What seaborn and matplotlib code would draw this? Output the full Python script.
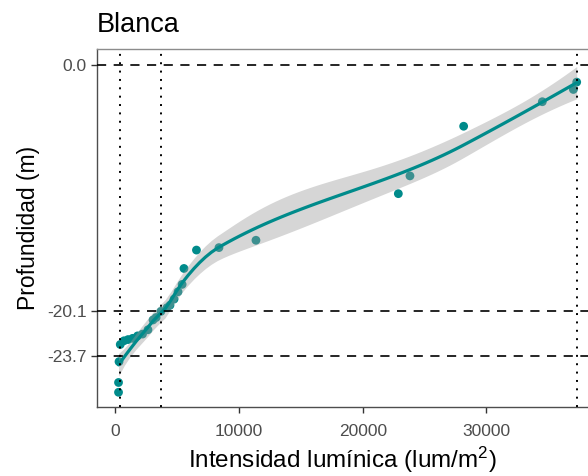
import numpy as np
import pandas as pd
import matplotlib
matplotlib.use("Agg")
import matplotlib.pyplot as plt
import seaborn as sns

# Light intensity (lum/m^2) and depth (m) measurements
intensidad = [260, 260, 300, 400, 700, 1030, 1400, 1800, 2200, 2640, 3050,
              3300, 3690, 4180, 4420, 4750, 5070, 5400, 5550, 6560, 8380, 11370,
              22880, 23820, 28160, 34520, 37030, 37300]
profundidad = [-26.7, -25.9, -24.2, -22.8, -22.5, -22.4, -22.3, -22.1, -21.95, -21.6, -20.8,
               -20.6, -20.1, -19.8, -19.6, -19.1, -18.5, -17.9, -16.6, -15.1, -14.9, -14.3,
               -10.5, -9.05, -5.0, -3.0, -2.0, -1.4]

# Reference depths and light levels (1 %, 10 % and 100 % of surface light)
prof_ref = [0.0, -20.1, -23.7]
luz_ref = [373, 3730, 37300]

x_ticks = [0, 10000, 20000, 30000]
titulo = "Blanca"

df = pd.DataFrame({"intensidad": intensidad, "profundidad": profundidad})


def _local_operator(x, v, q):
    """Rows of the local quadratic fit at v giving value and slope."""
    d = np.abs(x - v)
    rho = np.sort(d)[q - 1]
    w = np.where(d < rho, (1 - (d / rho) ** 3) ** 3, 0.0)
    u = (x - v) / rho
    X = np.column_stack([np.ones_like(u), u, u ** 2])
    XtW = X.T * w
    op = np.linalg.solve(XtW @ X, XtW)
    return op[0], op[1] / rho


def _vertices(x, fc):
    """Cut points of a 1-d k-d tree used for the loess interpolation surface."""
    xs = np.sort(x)
    n = len(xs)
    lo, hi = xs[0], xs[-1]
    mu = 0.005 * max(hi - lo, 1e-10 * max(abs(lo), abs(hi)) + 1e-30)
    verts = [lo - mu, hi + mu]
    stack = [(0, n - 1, lo - mu, hi + mu)]
    while stack:
        l, u, a, b = stack.pop()
        if u - l + 1 <= fc:
            continue
        m = (l + u) // 2
        off = 0
        while l <= m + off < u:
            if xs[m + off] == xs[m + off + 1]:
                off = -off
                if off >= 0:
                    off += 1
            else:
                m = m + off
                break
        cut = xs[m]
        if cut == a or cut == b:
            continue
        verts.append(cut)
        stack.append((l, m, a, cut))
        stack.append((m + 1, u, cut, b))
    return np.unique(verts)


def loess_smooth(x, y, grid, span=0.75, cell=0.2):
    """Loess (degree 2) with interpolated surface and a 95 % confidence band."""
    x = np.asarray(x, float)
    y = np.asarray(y, float)
    n = len(x)
    q = int(np.floor(n * span))
    fc = int(np.floor(n * span * cell))
    verts = _vertices(x, fc)
    ops = [_local_operator(x, v, q) for v in verts]

    def operator_at(pts):
        rows = []
        for p in pts:
            k = int(np.clip(np.searchsorted(verts, p) - 1, 0, len(verts) - 2))
            v0, v1 = verts[k], verts[k + 1]
            h = v1 - v0
            t = (p - v0) / h
            phi0 = (1 - t) ** 2 * (1 + 2 * t)
            phi1 = t ** 2 * (3 - 2 * t)
            psi0 = t * (1 - t) ** 2
            psi1 = -t ** 2 * (1 - t)
            rows.append(phi0 * ops[k][0] + phi1 * ops[k + 1][0]
                        + (psi0 * ops[k][1] + psi1 * ops[k + 1][1]) * h)
        return np.array(rows)

    Lhat = operator_at(x)
    M = np.eye(n) - Lhat
    R = M.T @ M
    d1 = np.trace(R)
    d2 = np.trace(R @ R)
    sigma = np.sqrt(np.sum((M @ y) ** 2) / d1)
    dof = d1 ** 2 / d2
    z = 1.959964
    tq = z + (z ** 3 + z) / (4 * dof) + (5 * z ** 5 + 16 * z ** 3 + 3 * z) / (96 * dof ** 2)
    Lg = operator_at(grid)
    fit = Lg @ y
    se = sigma * np.sqrt(np.sum(Lg ** 2, axis=1))
    return fit, fit - tq * se, fit + tq * se


grid = np.linspace(min(intensidad), max(intensidad), 80)
fit, lo, hi = loess_smooth(intensidad, profundidad, grid)
smooth = pd.DataFrame({"intensidad": grid, "profundidad": fit})

sns.set_theme(style="white")
plt.rcParams["font.family"] = ["Liberation Sans", "DejaVu Sans"]
plt.rcParams["mathtext.fontset"] = "custom"
plt.rcParams["mathtext.rm"] = "Liberation Sans"
plt.rcParams["mathtext.it"] = "Liberation Sans:italic"

teal = "#008B8B"
fig = plt.figure(figsize=(5.88, 4.76), dpi=100)
ax = fig.add_axes([97 / 588, 1 - 407 / 476, 1 - 97 / 588, (407 - 49) / 476])

sns.scatterplot(data=df, x="intensidad", y="profundidad", ax=ax, color=teal,
                s=40, edgecolor="none", linewidth=0, zorder=2)
ax.fill_between(grid, lo, hi, color="#999999", alpha=0.4, linewidth=0, zorder=3)
sns.lineplot(data=smooth, x="intensidad", y="profundidad", ax=ax, color=teal,
             linewidth=2.3, zorder=4, estimator=None, sort=False)

for p in prof_ref:
    ax.axhline(p, color="black", linewidth=1.2, linestyle=(0, (5.5, 4.5)), zorder=5)
for l in luz_ref:
    ax.axvline(l, color="black", linewidth=1.4, linestyle=(0, (1, 3.3)), zorder=5)

ax.set_xlim(-1480, 38213)
ax.set_ylim(-27.9, 1.3)
ax.set_xticks(x_ticks)
ax.set_xticklabels([str(v) for v in x_ticks])
ax.set_yticks(prof_ref)
ax.set_yticklabels([f"{v:.1f}" for v in prof_ref])
ax.tick_params(axis="both", which="major", length=4.5, width=1.0, color="#333333",
               labelsize=12.5, labelcolor="#4d4d4d", left=True, bottom=True)
ax.tick_params(axis="x", pad=8)
ax.tick_params(axis="y", pad=3)

for side in ["left", "bottom"]:
    ax.spines[side].set_color("#4d4d4d")
    ax.spines[side].set_linewidth(1.0)
ax.spines["top"].set_color("#8c8c8c")
ax.spines["top"].set_linewidth(1.0)
ax.spines["right"].set_visible(False)

ax.set_xlabel("Intensidad lumínica (lum/m$^{2}$)", fontsize=17.5, color="black", labelpad=4)
ax.set_ylabel("Profundidad (m)", fontsize=16.5, color="black", labelpad=5)
ax.set_title(titulo, loc="left", fontsize=19.5, color="black", pad=12)

fig.savefig("out.png", dpi=100)
